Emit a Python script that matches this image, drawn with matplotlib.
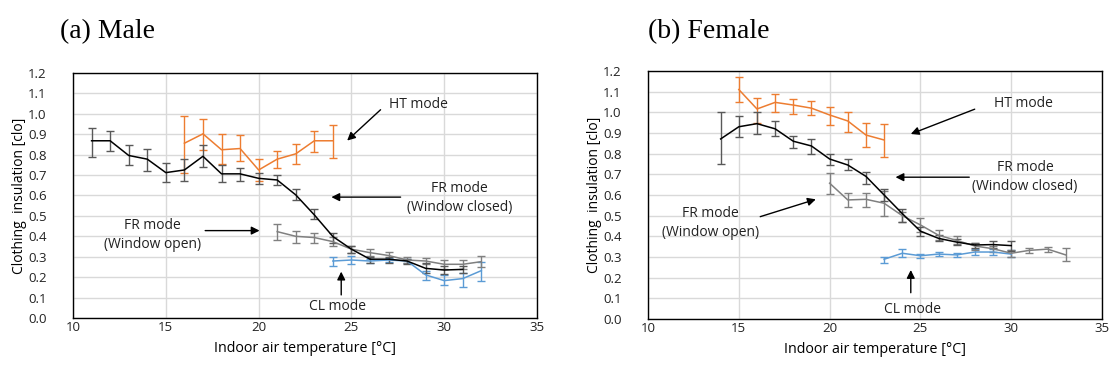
import matplotlib.pyplot as plt
import numpy as np

plt.rcParams['font.family'] = ['Open Sans', 'DejaVu Sans']

# ===== (a) Male =====
m_fr_closed_x = [11, 12, 13, 14, 15, 16, 17, 18, 19, 20, 21, 22, 23, 24, 25, 26, 27, 28, 29, 30, 31]
m_fr_closed_y = [0.868, 0.868, 0.796, 0.778, 0.712, 0.725, 0.792, 0.706, 0.706, 0.684, 0.676, 0.603,
                 0.505, 0.399, 0.337, 0.288, 0.288, 0.279, 0.243, 0.235, 0.238]
m_fr_closed_hi = [0.93, 0.918, 0.847, 0.83, 0.758, 0.778, 0.847, 0.75, 0.735, 0.712, 0.70, 0.63,
                  0.534, 0.418, 0.355, 0.30, 0.30, 0.29, 0.268, 0.256, 0.255]
m_fr_closed_lo = [0.79, 0.818, 0.747, 0.72, 0.665, 0.67, 0.74, 0.665, 0.67, 0.657, 0.65, 0.58,
                  0.484, 0.369, 0.32, 0.27, 0.27, 0.265, 0.222, 0.214, 0.218]

m_fr_open_x = [21, 22, 23, 24, 25, 26, 27, 28, 29, 30, 31, 32]
m_fr_open_y = [0.423, 0.40, 0.394, 0.374, 0.337, 0.32, 0.306, 0.284, 0.279, 0.263, 0.263, 0.276]
m_fr_open_hi = [0.46, 0.428, 0.418, 0.395, 0.355, 0.337, 0.322, 0.298, 0.293, 0.284, 0.284, 0.305]
m_fr_open_lo = [0.382, 0.369, 0.369, 0.353, 0.32, 0.304, 0.29, 0.27, 0.265, 0.24, 0.242, 0.248]

m_ht_x = [16, 17, 18, 19, 20, 21, 22, 23, 24]
m_ht_y = [0.856, 0.902, 0.824, 0.83, 0.725, 0.778, 0.804, 0.868, 0.868]
m_ht_hi = [0.987, 0.975, 0.90, 0.894, 0.778, 0.817, 0.85, 0.918, 0.946]
m_ht_lo = [0.712, 0.824, 0.753, 0.77, 0.673, 0.735, 0.753, 0.815, 0.783]

m_cl_x = [24, 25, 26, 27, 28, 29, 30, 31, 32]
m_cl_y = [0.279, 0.284, 0.279, 0.284, 0.279, 0.211, 0.183, 0.193, 0.232]
m_cl_hi = [0.30, 0.305, 0.29, 0.293, 0.29, 0.232, 0.21, 0.222, 0.276]
m_cl_lo = [0.256, 0.264, 0.27, 0.275, 0.268, 0.186, 0.162, 0.15, 0.183]

# ===== (b) Female =====
f_fr_closed_x = [14, 15, 16, 17, 18, 19, 20, 21, 22, 23, 24, 25, 26, 27, 28, 29, 30]
f_fr_closed_y = [0.871, 0.93, 0.945, 0.92, 0.86, 0.837, 0.774, 0.745, 0.69, 0.60, 0.51,
                 0.425, 0.39, 0.372, 0.358, 0.36, 0.355]
f_fr_closed_hi = [1.0, 0.98, 1.0, 0.96, 0.885, 0.87, 0.80, 0.773, 0.71, 0.63, 0.53,
                  0.447, 0.405, 0.385, 0.37, 0.375, 0.375]
f_fr_closed_lo = [0.75, 0.88, 0.895, 0.885, 0.826, 0.80, 0.745, 0.72, 0.655, 0.57, 0.47,
                  0.40, 0.375, 0.36, 0.345, 0.345, 0.33]

f_fr_open_x = [20, 21, 22, 23, 24, 25, 26, 27, 28, 29, 30, 31, 32, 33]
f_fr_open_y = [0.657, 0.576, 0.579, 0.56, 0.50, 0.455, 0.405, 0.38, 0.353, 0.34, 0.318, 0.332, 0.338, 0.31]
f_fr_open_hi = [0.708, 0.61, 0.61, 0.62, 0.52, 0.49, 0.43, 0.40, 0.37, 0.355, 0.335, 0.345, 0.35, 0.345]
f_fr_open_lo = [0.605, 0.543, 0.543, 0.50, 0.47, 0.42, 0.38, 0.365, 0.335, 0.325, 0.30, 0.32, 0.325, 0.28]

f_ht_x = [15, 16, 17, 18, 19, 20, 21, 22, 23]
f_ht_y = [1.11, 1.016, 1.048, 1.035, 1.02, 0.987, 0.958, 0.89, 0.866]
f_ht_hi = [1.17, 1.07, 1.09, 1.066, 1.055, 1.027, 1.003, 0.947, 0.942]
f_ht_lo = [1.05, 0.95, 1.0, 0.99, 0.987, 0.94, 0.903, 0.83, 0.785]

f_cl_x = [23, 24, 25, 26, 27, 28, 29, 30]
f_cl_y = [0.289, 0.318, 0.306, 0.314, 0.31, 0.324, 0.324, 0.314]
f_cl_hi = [0.30, 0.34, 0.315, 0.323, 0.32, 0.34, 0.337, 0.334]
f_cl_lo = [0.27, 0.30, 0.295, 0.305, 0.30, 0.31, 0.31, 0.30]

x_ticks = [10, 15, 20, 25, 30, 35]
y_ticks = np.round(np.arange(0, 1.21, 0.1), 1)

ORANGE = '#ED7D31'
BLUE = '#5B9BD5'
GRAY = '#808080'
DARK = '#595959'


def draw_series(ax, x, y, hi, lo, color, ecolor):
    y = np.array(y)
    err = [y - np.array(lo), np.array(hi) - y]
    ax.errorbar(x, y, yerr=err, color=color, ecolor=ecolor, lw=1.1,
                elinewidth=1.0, capsize=3, capthick=1.0, zorder=3)


def setup_axes(ax):
    ax.set_xlim(10, 35)
    ax.set_ylim(0, 1.2)
    ax.set_xticks(x_ticks)
    ax.set_yticks(y_ticks)
    ax.set_yticklabels([f"{v:.1f}" for v in y_ticks])
    ax.grid(True, color='#d9d9d9', lw=1.0)
    ax.set_axisbelow(True)
    ax.tick_params(length=0, labelsize=9.5, colors='#222222')
    ax.tick_params(axis='y', pad=19)
    ax.tick_params(axis='x', pad=2)
    for s in ax.spines.values():
        s.set_linewidth(1.0)
        s.set_color('black')
    ax.set_xlabel("Indoor air temperature [°C]", fontsize=10.3, labelpad=5)
    ax.set_ylabel("Clothing  insulation [clo]", fontsize=10, labelpad=1)


def arrow(ax, tail, head):
    ax.annotate('', xy=head, xytext=tail,
                arrowprops=dict(arrowstyle='-|>', color='black', lw=1.0,
                                mutation_scale=12, shrinkA=0, shrinkB=0))


fig = plt.figure(figsize=(11.1, 3.73), dpi=100)
ax1 = fig.add_axes([0.0658, 0.1475, 0.418, 0.6568])
ax2 = fig.add_axes([0.5838, 0.1448, 0.409, 0.665])

for ax in (ax1, ax2):
    setup_axes(ax)

draw_series(ax1, m_ht_x, m_ht_y, m_ht_hi, m_ht_lo, ORANGE, ORANGE)
draw_series(ax1, m_cl_x, m_cl_y, m_cl_hi, m_cl_lo, BLUE, BLUE)
draw_series(ax1, m_fr_open_x, m_fr_open_y, m_fr_open_hi, m_fr_open_lo, GRAY, GRAY)
draw_series(ax1, m_fr_closed_x, m_fr_closed_y, m_fr_closed_hi, m_fr_closed_lo, 'black', DARK)

draw_series(ax2, f_ht_x, f_ht_y, f_ht_hi, f_ht_lo, ORANGE, ORANGE)
draw_series(ax2, f_cl_x, f_cl_y, f_cl_hi, f_cl_lo, BLUE, BLUE)
draw_series(ax2, f_fr_open_x, f_fr_open_y, f_fr_open_hi, f_fr_open_lo, GRAY, GRAY)
draw_series(ax2, f_fr_closed_x, f_fr_closed_y, f_fr_closed_hi, f_fr_closed_lo, 'black', DARK)

txt = dict(fontsize=10, ha='center', va='center', color='#222222', linespacing=1.35)

# annotations - male
ax1.text(28.6, 1.044, "HT mode", **txt)
arrow(ax1, (26.57, 1.02), (24.77, 0.869))
ax1.text(30.83, 0.586, "FR mode\n(Window closed)", **txt)
arrow(ax1, (27.65, 0.592), (23.92, 0.592))
ax1.text(14.26, 0.405, "FR mode\n(Window open)", **txt)
arrow(ax1, (17.12, 0.428), (20.05, 0.428))
ax1.text(24.25, 0.054, "CL mode", **txt)
arrow(ax1, (24.45, 0.113), (24.45, 0.227))

# annotations - female
ax2.text(30.65, 1.044, "HT mode", **txt)
arrow(ax2, (27.99, 1.015), (24.47, 0.895))
ax2.text(30.76, 0.687, "FR mode\n(Window closed)", **txt)
arrow(ax2, (27.69, 0.686), (23.63, 0.686))
ax2.text(13.42, 0.464, "FR mode\n(Window open)", **txt)
arrow(ax2, (16.18, 0.495), (19.24, 0.579))
ax2.text(24.54, 0.048, "CL mode", **txt)
arrow(ax2, (24.47, 0.127), (24.47, 0.237))

fig.text(0.054, 0.915, "(a) Male", fontsize=20, family='Liberation Serif', va='center')
fig.text(0.584, 0.915, "(b) Female", fontsize=20, family='Liberation Serif', va='center')

fig.savefig("out.png", dpi=100)
